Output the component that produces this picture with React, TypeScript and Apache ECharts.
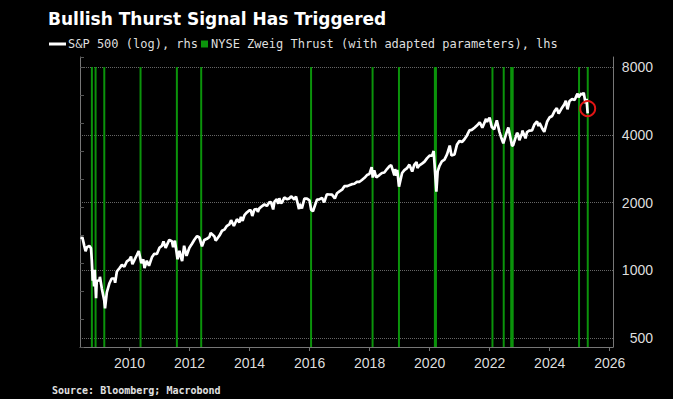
import React, { useEffect, useRef } from "react";
import * as echarts from "echarts";

// ---------- data ----------
const spxDates = [
  "2008-05-23","2008-06-05","2008-06-30","2008-07-15","2008-07-31","2008-08-29","2008-09-19","2008-09-29","2008-10-10","2008-10-13","2008-10-27","2008-11-04","2008-11-20","2008-11-28","2008-12-31",
  "2009-01-06","2009-01-30","2009-02-27","2009-03-09","2009-03-31","2009-04-30","2009-05-29","2009-06-30","2009-07-10","2009-07-31","2009-08-31","2009-09-30","2009-10-30","2009-11-30","2009-12-31",
  "2010-01-19","2010-02-05","2010-02-26","2010-03-31","2010-04-23","2010-05-25","2010-05-31","2010-06-18","2010-07-02","2010-07-30","2010-08-26","2010-09-30","2010-10-29","2010-11-30","2010-12-31",
  "2011-01-31","2011-02-18","2011-03-16","2011-04-29","2011-05-31","2011-06-15","2011-07-07","2011-08-08","2011-08-31","2011-09-22","2011-10-03","2011-10-27","2011-11-25","2011-12-30",
  "2012-01-31","2012-02-29","2012-04-02","2012-04-30","2012-06-01","2012-06-29","2012-07-31","2012-08-31","2012-09-14","2012-10-31","2012-11-15","2012-12-31",
  "2013-01-31","2013-02-28","2013-03-28","2013-04-30","2013-05-21","2013-06-24","2013-07-31","2013-08-30","2013-09-18","2013-10-08","2013-10-31","2013-11-29","2013-12-31",
  "2014-01-15","2014-02-03","2014-02-28","2014-03-31","2014-04-11","2014-04-30","2014-05-30","2014-06-30","2014-07-31","2014-08-29","2014-09-18","2014-10-15","2014-10-31","2014-11-28","2014-12-16","2014-12-29",
  "2015-01-15","2015-01-30","2015-02-27","2015-03-31","2015-04-30","2015-05-21","2015-06-30","2015-07-20","2015-08-25","2015-08-31","2015-09-29","2015-10-30","2015-11-30","2015-12-31",
  "2016-01-20","2016-02-11","2016-03-31","2016-04-29","2016-05-31","2016-06-27","2016-07-29","2016-08-31","2016-09-30","2016-11-04","2016-11-30","2016-12-30",
  "2017-01-31","2017-02-28","2017-03-31","2017-04-28","2017-05-31","2017-06-30","2017-07-31","2017-08-31","2017-09-29","2017-10-31","2017-11-30","2017-12-29",
  "2018-01-26","2018-02-08","2018-02-26","2018-03-23","2018-04-30","2018-05-31","2018-06-29","2018-07-31","2018-08-31","2018-09-20","2018-10-29","2018-11-07","2018-11-23","2018-12-03","2018-12-24",
  "2019-01-31","2019-02-28","2019-03-29","2019-04-30","2019-06-03","2019-06-28","2019-07-26","2019-08-05","2019-08-30","2019-09-30","2019-10-31","2019-11-29","2019-12-31",
  "2020-01-31","2020-02-19","2020-03-23","2020-04-08","2020-04-30","2020-05-29","2020-06-30","2020-07-31","2020-09-02","2020-09-23","2020-10-30","2020-11-30","2020-12-31",
  "2021-01-29","2021-02-26","2021-03-31","2021-04-30","2021-05-28","2021-06-30","2021-07-30","2021-09-02","2021-10-04","2021-11-18","2021-11-30","2021-12-31",
  "2022-01-03","2022-01-27","2022-02-24","2022-03-29","2022-04-29","2022-05-20","2022-06-16","2022-07-29","2022-08-16","2022-09-30","2022-10-12","2022-11-30","2022-12-13","2022-12-28",
  "2023-01-31","2023-02-02","2023-03-13","2023-03-31","2023-04-28","2023-05-31","2023-06-30","2023-07-31","2023-08-18","2023-08-31","2023-09-29","2023-10-27","2023-11-30","2023-12-29",
  "2024-01-31","2024-02-29","2024-03-28","2024-04-19","2024-05-31","2024-06-28","2024-07-16","2024-08-05","2024-08-30","2024-09-30","2024-10-31","2024-11-29","2024-12-06","2024-12-19",
  "2025-01-23","2025-01-27","2025-02-19","2025-03-13","2025-03-25","2025-04-08",
];
const spxValues = [
  1375,1405,1280,1215,1267,1283,1255,1106,899,1003,848,1005,752,896,903,
  935,826,735,677,798,873,919,919,879,987,1021,1057,1036,1096,1115,
  1150,1064,1104,1169,1217,1074,1089,1118,1022,1102,1047,1141,1183,1181,1258,
  1286,1343,1257,1364,1345,1266,1353,1119,1219,1130,1099,1285,1159,1258,
  1312,1366,1419,1398,1278,1362,1379,1407,1466,1412,1353,1426,
  1498,1515,1569,1598,1669,1573,1686,1633,1725,1656,1757,1806,1848,
  1848,1742,1859,1872,1815,1884,1924,1960,1931,2003,2011,1862,2018,2068,1973,2091,
  1993,1995,2105,2068,2086,2131,2063,2128,1868,1972,1882,2079,2080,2044,
  1859,1829,2060,2065,2097,2001,2174,2171,2168,2085,2199,2239,
  2279,2364,2363,2384,2412,2423,2470,2472,2519,2575,2648,2674,
  2873,2581,2780,2588,2648,2705,2718,2816,2902,2931,2641,2814,2633,2790,2351,
  2704,2784,2834,2946,2744,2942,3026,2845,2926,2977,3038,3141,3231,
  3226,3386,2237,2750,2912,3044,3100,3271,3580,3237,3270,3622,3756,
  3714,3811,3973,4181,4204,4298,4395,4537,4300,4705,4567,4766,
  4797,4327,4226,4632,4132,3901,3667,4130,4305,3586,3577,4080,4019,3783,
  4077,4179,3855,4109,4169,4180,4450,4589,4370,4508,4288,4117,4568,4770,
  4846,5096,5254,4967,5278,5460,5667,5186,5648,5762,5705,6032,6090,5867,
  6119,6012,6144,5522,5777,4982,
];
// Zweig thrust signal dates (bars, value 1 on lhs)
const thrustDates = [
  "2008-09-30","2008-11-14","2009-02-28","2010-05-15","2011-07-31","2012-05-22",
  "2016-01-19","2018-02-06","2018-12-24","2020-03-05","2020-03-18",
  "2022-02-04","2022-06-21","2022-09-20","2022-10-08","2024-12-24","2025-04-09",
];
const thrustValues = [1,1,1,1,1,1,1,1,1,1,1,1,1,1,1,1,1];
// annotation circle
const annotationDate = "2025-04-08";
const annotationValue = 5230;
// ticks
const xTickYears = [2010, 2012, 2014, 2016, 2018, 2020, 2022, 2024, 2026];
const rightTickLabels = [500, 1000, 2000, 4000, 8000];
const xStart = "2008-05-08";
const xEnd = "2026-02-10";

const titleText = "Bullish Thurst Signal Has Triggered";
const lineName = "S&P 500 (log), rhs";
const barName = "NYSE Zweig Thrust (with adapted parameters), lhs";
const sourceText = "Source: Bloomberg; Macrobond";

function toYear(d: string): number {
  const dt = new Date(d + "T00:00:00Z");
  const y = dt.getUTCFullYear();
  const start = Date.UTC(y, 0, 1);
  const end = Date.UTC(y + 1, 0, 1);
  return y + (dt.getTime() - start) / (end - start);
}
const toLog = (v: number) => Math.log2(v / rightTickLabels[0]);

export default function App() {
  const ref = useRef<HTMLDivElement>(null);
  useEffect(() => {
    if (!ref.current) return;
    const chart = echarts.init(ref.current, undefined, { renderer: "svg" });
    const axisGray = "#777777";
    const labelColor = "#dedede";
    const mono = "'DejaVu Sans Mono', 'Liberation Mono', monospace";
    const sans = "'Liberation Sans', Arial, sans-serif";
    const xMin = toYear(xStart);
    const xMax = toYear(xEnd);
    const lineData = spxDates.map((d, i) => [toYear(d), toLog(spxValues[i])]);
    const barData = thrustDates.map((d, i) => [toYear(d), thrustValues[i]]);

    chart.setOption({
      animation: false,
      backgroundColor: "#000000",
      title: [
        {
          text: titleText,
          left: 43,
          top: 5,
          textStyle: { color: "#ffffff", fontSize: 17, fontWeight: "bold", fontFamily: "'DejaVu Sans', sans-serif" },
        },
        {
          text: sourceText,
          left: 47,
          top: 380,
          textStyle: { color: "#e0e0e0", fontSize: 10, fontWeight: "bold", fontFamily: mono },
        },
      ],
      legend: [
        {
          data: [{ name: lineName, icon: "rect", itemStyle: { color: "#ffffff" } }],
          left: 44,
          top: 33,
          itemWidth: 17,
          itemHeight: 3,
          selectedMode: false,
          textStyle: { color: labelColor, fontSize: 12, fontFamily: mono, padding: [0, 0, 0, -3] },
        },
        {
          data: [{ name: barName, icon: "rect" }],
          left: 196,
          top: 33,
          itemWidth: 7,
          itemHeight: 7,
          selectedMode: false,
          textStyle: { color: labelColor, fontSize: 12, fontFamily: mono, padding: [0, 0, 0, -2] },
        },
      ],
      grid: [
        { left: 80, right: 60, top: 57, bottom: 52 },
        { left: 80, right: 60, top: 67, bottom: 61 },
      ],
      xAxis: [
        {
          type: "value",
          gridIndex: 0,
          min: xMin,
          max: xMax,
          minInterval: 2,
          maxInterval: 2,
          axisLine: { show: true, lineStyle: { color: axisGray, width: 1 } },
          axisTick: { show: true, length: 4, lineStyle: { color: axisGray }, customValues: xTickYears },
          axisLabel: {
            color: labelColor,
            fontSize: 14,
            fontFamily: sans,
            margin: 9,
            customValues: xTickYears,
            formatter: (v: number) => String(Math.round(v)),
          },
          splitLine: { show: false },
        },
        {
          type: "value",
          gridIndex: 1,
          min: xMin,
          max: xMax,
          show: false,
        },
      ],
      yAxis: [
        {
          type: "value",
          gridIndex: 0,
          position: "left",
          min: 0,
          max: 290 / 280,
          interval: 0.1,
          axisLine: { show: true, lineStyle: { color: axisGray } },
          axisTick: { show: true, inside: true, length: 4, lineStyle: { color: "#555555" } },
          axisLabel: { show: false },
          splitLine: { show: false },
        },
        {
          type: "value",
          gridIndex: 0,
          position: "right",
          min: 0,
          max: 1,
          axisLine: { show: true, lineStyle: { color: axisGray } },
          axisTick: { show: false },
          axisLabel: { show: false },
          splitLine: { show: false },
        },
        {
          type: "value",
          gridIndex: 1,
          position: "right",
          min: 0,
          max: rightTickLabels.length - 1,
          interval: 1,
          axisLine: { show: false },
          axisTick: { show: false },
          axisLabel: {
            color: labelColor,
            fontSize: 14,
            fontFamily: sans,
            align: "right",
            margin: 40,
            formatter: (v: number) => String(rightTickLabels[Math.round(v)]),
          },
          splitLine: { show: true, lineStyle: { color: "#666666", type: "dotted", width: 1 } },
        },
      ],
      series: [
        {
          name: barName,
          type: "bar",
          xAxisIndex: 0,
          yAxisIndex: 0,
          data: barData,
          barWidth: 2,
          itemStyle: { color: "#0b930b" },
          z: 1,
        },
        {
          name: lineName,
          type: "line",
          xAxisIndex: 1,
          yAxisIndex: 2,
          data: lineData,
          showSymbol: false,
          symbol: "none",
          lineStyle: { color: "#ffffff", width: 2.7 },
          itemStyle: { color: "#ffffff" },
          z: 3,
          markPoint: {
            symbol: "circle",
            symbolSize: 15,
            silent: true,
            label: { show: false },
            itemStyle: { color: "rgba(0,0,0,0)", borderColor: "#e01515", borderWidth: 2 },
            data: [{ coord: [toYear(annotationDate), toLog(annotationValue)] }],
          },
        },
      ],
    });
    return () => chart.dispose();
  }, []);
  return (
    <div
      ref={ref}
      style={{ position: "fixed", left: 0, top: 0, width: 673, height: 399, background: "#000" }}
    />
  );
}
